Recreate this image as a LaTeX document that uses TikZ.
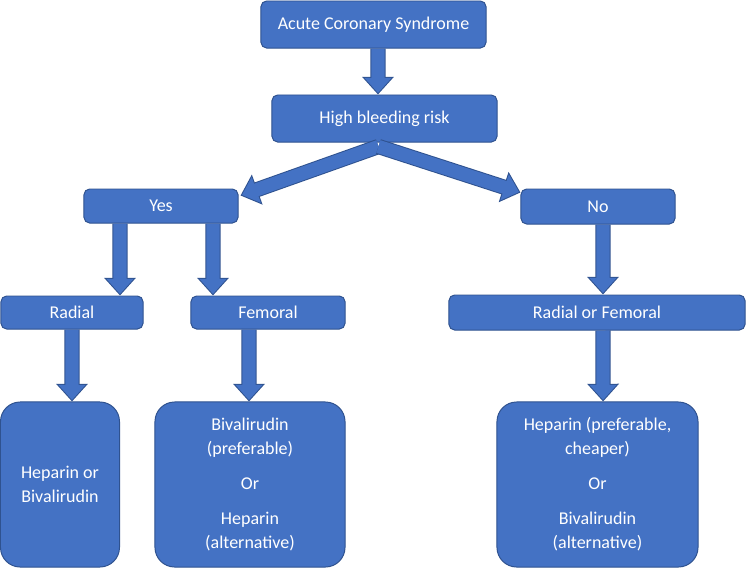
\documentclass[tikz,border=0pt]{standalone}
\usepackage{fontspec}
\setmainfont{Carlito}
\definecolor{officeBlue}{RGB}{68,114,196}
\definecolor{officeEdge}{RGB}{47,82,143}
\usetikzlibrary{arrows.meta, positioning, calc}

\begin{document}
\begin{tikzpicture}[
    x=0.025cm, y=-0.025cm,
    stage/.style={draw=officeEdge, line width=0.7pt, fill=officeBlue, rounded corners=4pt,
                  text=white, align=center, font=\fontsize{12.8}{17}\selectfont, inner sep=2pt},
    choice/.style={stage, rounded corners=14pt, minimum height=4.125cm},
    flow/.style={officeBlue, line width=0.33cm, shorten >=0.038cm,
                 -{Triangle[length=0.38cm, width=0.66cm]},
                 preaction={draw=officeEdge, line width=0.38cm, shorten >=0pt,
                            -{Triangle[length=0.443cm, width=0.77cm]}}}
  ]
    \useasboundingbox (0,0) rectangle (746,568);

    \node[stage, minimum width=5.625cm, minimum height=1.175cm] (acs) at (373.5,24.5) {Acute Coronary Syndrome};
    \node[stage, minimum width=5.625cm, minimum height=1.175cm] (hbr) at (384.5,118.5) {High bleeding risk};
    \node[stage, minimum width=3.85cm, minimum height=0.85cm] (yes) at (161,206) {Yes};
    \node[stage, minimum width=3.85cm, minimum height=0.875cm] (no) at (598,206.5) {No};
    \node[stage, minimum width=3.55cm, minimum height=0.825cm] (radial) at (72,312.5) {Radial};
    \node[stage, minimum width=3.85cm, minimum height=0.825cm] (femoral) at (268,312.5) {Femoral};
    \node[stage, minimum width=7.4cm, minimum height=0.875cm] (radfem) at (597,312.5) {Radial or Femoral};

    \node[choice, minimum width=2.975cm] (radtx) at (60,484.5) {Heparin or\\Bivalirudin};
    \node[choice, minimum width=4.75cm] (femtx) at (250,484.5) {
      Bivalirudin\\(preferable)\\[8pt]
      Or\\[8pt]
      Heparin\\(alternative)
    };
    \node[choice, minimum width=5.025cm] (rftx) at (597.5,484.5) {
      Heparin (preferable,\\cheaper)\\[8pt]
      Or\\[8pt]
      Bivalirudin\\(alternative)
    };

    \draw[flow] ([xshift=0.1125cm]acs.south) -- ([xshift=-0.1625cm]hbr.north);
    \draw[flow] ([xshift=-0.15cm,yshift=-0.1cm]hbr.south) -- ([xshift=0.05cm,yshift=-0.175cm]yes.north east);
    \draw[flow] ([xshift=-0.15cm,yshift=-0.1cm]hbr.south) -- ([yshift=-0.1cm]no.north west);
    \draw[flow] ([xshift=-1.025cm]yes.south) -- ([xshift=1.2cm]radial.north);
    \draw[flow] ([xshift=1.3cm]yes.south) -- ([xshift=-1.375cm]femoral.north);
    \draw[flow] (radial.south) -- ([xshift=0.3cm]radtx.north);
    \draw[flow] ([xshift=-0.475cm]femoral.south) -- ([xshift=-0.025cm]femtx.north);
    \draw[flow] ([xshift=0.125cm]no.south) -- ([xshift=0.15cm]radfem.north);
    \draw[flow] ([xshift=0.15cm]radfem.south) -- ([xshift=0.14cm]rftx.north);
  \end{tikzpicture}
\end{document}
